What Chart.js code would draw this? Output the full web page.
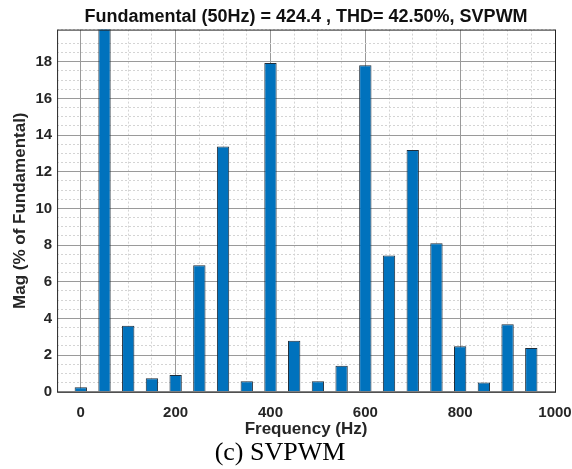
<!DOCTYPE html>
<html lang="en">
<head>
<meta charset="UTF-8">
<title>SVPWM spectrum</title>
<script src="https://cdn.jsdelivr.net/npm/chart.js"></script>
<style>
  html, body { margin: 0; padding: 0; background: #fff; }
  #wrap { width: 572px; height: 469px; position: relative; }
</style>
</head>
<body>
<div id="wrap"><canvas id="grafico"></canvas></div>

<script>
// harmonic frequencies (Hz) and magnitudes (% of fundamental)
var frequencias = [0, 50, 100, 150, 200, 250, 300, 350, 400, 450, 500, 550, 600, 650, 700, 750, 800, 850, 900, 950];
var magnitudes = [0.25, 100, 3.6, 0.74, 0.91, 6.9, 13.37, 0.57, 17.93, 2.79, 0.58, 1.42, 17.8, 7.43, 13.19, 8.1, 2.48, 0.51, 3.68, 2.39];
var ticksX = [0, 200, 400, 600, 800, 1000];
var ticksY = [0, 2, 4, 6, 8, 10, 12, 14, 16, 18];

var fonte = 'Liberation Sans, Arial, sans-serif';

var pontos = [];
for (var i = 0; i < frequencias.length; i++) {
    pontos.push({ x: frequencias[i], y: magnitudes[i] });
}

// box around the plot area, like matlab
var caixa = {
    id: 'caixa',
    afterDraw: function (chart) {
        var a = chart.chartArea;
        var ctx = chart.ctx;
        ctx.save();
        ctx.strokeStyle = '#262626';
        ctx.lineWidth = 1;
        ctx.strokeRect(a.left + 0.5, a.top + 0.5, a.right - a.left, a.bottom - a.top);
        ctx.restore();
    }
};

function soTicks(lista) {
    return function (scale) {
        scale.ticks = lista.map(function (v) { return { value: v }; });
    };
}

// minor grid hidden where a major line already is
function corMenor(passo) {
    return function (c) {
        if (c.tick && Math.abs(c.tick.value / passo - Math.round(c.tick.value / passo)) < 1e-6) {
            return 'rgba(0,0,0,0)';
        }
        return '#d4d4d4';
    };
}

new Chart(document.getElementById('grafico'), {
    type: 'bar',
    data: {
        datasets: [{
            data: pontos,
            backgroundColor: '#0072BD',
            borderColor: '#1f2d3a',
            borderWidth: 1,
            barPercentage: 0.52,
            categoryPercentage: 1
        }]
    },
    plugins: [caixa],
    options: {
        responsive: true,
        maintainAspectRatio: false,
        animation: false,
        layout: { padding: { left: 5, right: 17, top: 0, bottom: 0 } },
        plugins: {
            legend: { display: false },
            tooltip: { enabled: false },
            title: {
                display: true,
                fullSize: false,
                text: 'Fundamental (50Hz) = 424.4 , THD= 42.50%, SVPWM',
                color: '#111',
                font: { family: fonte, size: 18, weight: 'bold' },
                padding: { top: 6, bottom: 2 }
            },
            subtitle: {
                display: true,
                position: 'bottom',
                text: '(c) SVPWM',
                color: '#000',
                font: { family: 'Liberation Serif, Times New Roman, serif', size: 26 },
                padding: { top: 3, bottom: 0 }
            }
        },
        scales: {
            x: {
                type: 'linear',
                min: -50,
                max: 1000,
                offset: false,
                afterBuildTicks: soTicks(ticksX),
                afterFit: function (s) { s.paddingRight = 4; s.height = 43; },
                ticks: {
                    color: '#262626',
                    font: { family: fonte, size: 15, weight: 'bold' },
                    padding: 12,
                    maxRotation: 0,
                    callback: function (v) { return String(v); }
                },
                grid: { color: '#9a9a9a', lineWidth: 1, drawTicks: false, offset: false },
                border: { display: false },
                title: {
                    display: true,
                    text: 'Frequency (Hz)',
                    color: '#262626',
                    font: { family: fonte, size: 17, weight: 'bold' },
                    padding: { top: 0, bottom: -5 }
                }
            },
            xMenor: {
                type: 'linear',
                position: 'bottom',
                min: -50,
                max: 1000,
                offset: false,
                afterFit: function (s) { s.height = 0; },
                ticks: { display: false, stepSize: 50 },
                grid: { color: corMenor(200), lineWidth: 1, drawTicks: false, offset: false },
                border: { display: false, dash: [2, 2] }
            },
            y: {
                min: 0,
                max: 19.75,
                afterBuildTicks: soTicks(ticksY),
                ticks: {
                    color: '#262626',
                    font: { family: fonte, size: 15, weight: 'bold' },
                    padding: 5
                },
                grid: { color: '#9a9a9a', lineWidth: 1, drawTicks: false },
                border: { display: false },
                title: {
                    display: true,
                    text: 'Mag (% of Fundamental)',
                    color: '#262626',
                    font: { family: fonte, size: 17, weight: 'bold' },
                    padding: { top: 5, bottom: 0 }
                }
            },
            yMenor: {
                position: 'left',
                min: 0,
                max: 19.75,
                ticks: { display: false, stepSize: 0.5 },
                grid: { color: corMenor(2), lineWidth: 1, drawTicks: false },
                border: { display: false, dash: [2, 2] }
            }
        }
    }
});
</script>
</body>
</html>
